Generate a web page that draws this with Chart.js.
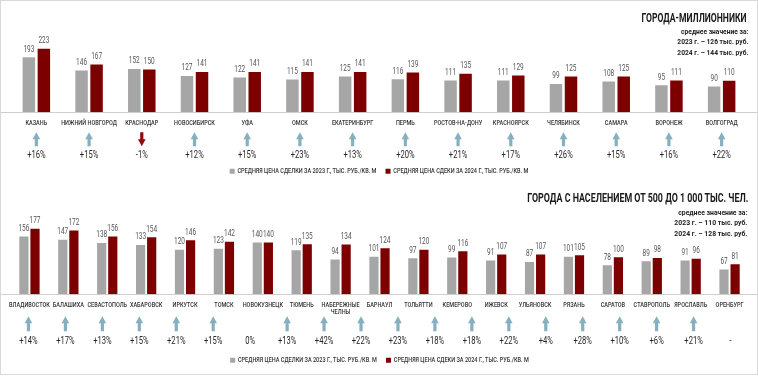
<!DOCTYPE html>
<html><head><meta charset="utf-8">
<script src="https://cdn.jsdelivr.net/npm/chart.js@4.4.1/dist/chart.umd.min.js"></script>
<style>
html,body{margin:0;padding:0;background:#fff;}
#wrap{position:relative;width:758px;height:376px;overflow:hidden;}
#frame{position:absolute;left:0;top:0;width:756px;height:373px;border:1px solid #d9d9d9;pointer-events:none;}
.panel{position:absolute;left:0;width:758px;overflow:hidden;}
#p1{top:0;height:185px;}
#p2{top:185px;height:191px;}
.ttl{position:absolute;font-family:Roboto,'Noto Sans',sans-serif;font-weight:700;font-size:12.5px;line-height:13px;color:#1a1a1a;white-space:nowrap;transform-origin:right top;}
.sub{position:absolute;text-align:right;font-family:Roboto,'Noto Sans',sans-serif;font-weight:700;font-size:8px;line-height:10.3px;color:#222;white-space:nowrap;transform-origin:right top;}
</style></head>
<body>
<div id="wrap">
  <div class="panel" id="p1"><canvas id="c1" width="997" height="185"></canvas></div>
  <div class="panel" id="p2"><canvas id="c2" width="997" height="191"></canvas></div>
  <div class="ttl" data-w="105" style="right:11px;top:10.5px;">ГОРОДА-МИЛЛИОННИКИ</div>
  <div class="sub" data-w="71" style="right:10px;top:27px;">среднее значение за:<br>2023 г. – 126 тыс. руб.<br>2024 г. – 144 тыс. руб.</div>
  <div class="ttl" data-w="221" style="right:10px;top:190.5px;">ГОРОДА С НАСЕЛЕНИЕМ ОТ 500 ДО 1 000 ТЫС. ЧЕЛ.</div>
  <div class="sub" data-w="73" style="right:11px;top:208px;">среднее значение за:<br>2023 г. – 110 тыс. руб.<br>2024 г. – 128 тыс. руб.</div>
  <div id="frame"></div>
</div>
<script>
// ---------- DATA ----------
const LEGEND_2023 = 'СРЕДНЯЯ ЦЕНА СДЕЛКИ ЗА 2023 Г., ТЫС. РУБ./КВ. М';
const LEGEND_2024 = 'СРЕДНЯЯ ЦЕНА СДЕКИ ЗА 2024 Г., ТЫС. РУБ./КВ. М';

const millionCities = ['КАЗАНЬ','НИЖНИЙ НОВГОРОД','КРАСНОДАР','НОВОСИБИРСК','УФА','ОМСК','ЕКАТЕРИНБУРГ','ПЕРМЬ','РОСТОВ-НА-ДОНУ','КРАСНОЯРСК','ЧЕЛЯБИНСК','САМАРА','ВОРОНЕЖ','ВОЛГОГРАД'];
const million2023 = [193,146,152,127,122,115,125,116,111,111,99,108,95,90];
const million2024 = [223,167,150,141,141,141,141,139,135,129,125,125,111,110];
const millionChange = ['+16%','+15%','-1%','+12%','+15%','+23%','+13%','+20%','+21%','+17%','+26%','+15%','+16%','+22%'];

const midCities = ['ВЛАДИВОСТОК','БАЛАШИХА','СЕВАСТОПОЛЬ','ХАБАРОВСК','ИРКУТСК','ТОМСК','НОВОКУЗНЕЦК','ТЮМЕНЬ',['НАБЕРЕЖНЫЕ','ЧЕЛНЫ'],'БАРНАУЛ','ТОЛЬЯТТИ','КЕМЕРОВО','ИЖЕВСК','УЛЬЯНОВСК','РЯЗАНЬ','САРАТОВ','СТАВРОПОЛЬ','ЯРОСЛАВЛЬ','ОРЕНБУРГ'];
const mid2023 = [156,147,138,133,120,123,140,119,94,101,97,99,91,87,101,78,89,91,67];
const mid2024 = [177,172,156,154,146,142,140,135,134,124,120,116,107,107,105,100,98,96,81];
const midChange = ['+14%','+17%','+13%','+15%','+21%','+15%','0%','+13%','+42%','+22%','+23%','+18%','+18%','+22%','+4%','+28%','+10%','+6%','+21%','-'];

// ---------- STYLE ----------
const FONT = "Roboto, 'Noto Sans', sans-serif";
const GRAY = '#a6a6a6', RED = '#7d0000', ARROW_UP = '#86afc0', ARROW_DN = '#8b0b0b';
const LOGICAL_W = 997;            // chart laid out wider, then drawn horizontally condensed
const SX = 758 / LOGICAL_W;       // horizontal condensation (narrow typeface look)

function drawArrow(ctx, x, yTop, yBot, dir) {
  const hw = 3.8 / SX, sw = 1.6 / SX, hh = 7;
  ctx.beginPath();
  if (dir > 0) {
    ctx.moveTo(x, yTop); ctx.lineTo(x + hw, yTop + hh); ctx.lineTo(x + sw, yTop + hh);
    ctx.lineTo(x + sw, yBot); ctx.lineTo(x - sw, yBot); ctx.lineTo(x - sw, yTop + hh);
    ctx.lineTo(x - hw, yTop + hh);
  } else {
    ctx.moveTo(x, yBot); ctx.lineTo(x + hw, yBot - hh); ctx.lineTo(x + sw, yBot - hh);
    ctx.lineTo(x + sw, yTop); ctx.lineTo(x - sw, yTop); ctx.lineTo(x - sw, yBot - hh);
    ctx.lineTo(x - hw, yBot - hh);
  }
  ctx.closePath();
  ctx.fillStyle = dir > 0 ? ARROW_UP : ARROW_DN;
  ctx.fill();
}

function makePlugin(changes, arrowTop, arrowBottom, textY) {
  return {
    id: 'annot',
    beforeDraw(chart) {
      chart.ctx.save();
      chart.ctx.scale(SX, 1);
    },
    beforeDatasetsDraw(chart) {
      const ctx = chart.ctx;
      const y = Math.round(chart.scales.y.getPixelForValue(0)) + 0.5;
      ctx.save();
      ctx.strokeStyle = '#c8c8c8'; ctx.lineWidth = 1;
      ctx.beginPath(); ctx.moveTo(1 / SX, y); ctx.lineTo(chart.width - 1 / SX, y); ctx.stroke();
      ctx.restore();
    },
    afterDatasetsDraw(chart) {
      const ctx = chart.ctx;
      ctx.save();
      ctx.font = '8.5px ' + FONT;
      ctx.fillStyle = '#555555'; ctx.textAlign = 'center'; ctx.textBaseline = 'bottom';
      chart.data.datasets.forEach((ds, di) => {
        chart.getDatasetMeta(di).data.forEach((el, i) => {
          ctx.fillText(String(ds.data[i]), el.x, el.y - 3.5);
        });
      });
      ctx.restore();
    },
    afterDraw(chart) {
      const ctx = chart.ctx;
      const x2 = chart.scales.x2;
      const base = chart.scales.y.getPixelForValue(0);
      ctx.save();
      changes.forEach((t, i) => {
        const x = x2.getPixelForValue(i);
        const dir = /^\+/.test(t) ? 1 : (/^-\d/.test(t) ? -1 : 0);
        if (dir) drawArrow(ctx, x, base + arrowTop, base + arrowBottom, dir);
        ctx.font = '10px ' + FONT;
        ctx.fillStyle = '#262626'; ctx.textAlign = 'center'; ctx.textBaseline = 'middle';
        ctx.fillText(t, x, base + textY);
      });
      ctx.restore();
      ctx.restore();
    }
  };
}

function makeChart(id, labels, v23, v24, changes, cfg) {
  return new Chart(document.getElementById(id), {
    type: 'bar',
    data: {
      labels: labels,
      datasets: [
        { label: LEGEND_2023, data: v23, backgroundColor: GRAY },
        { label: LEGEND_2024, data: v24, backgroundColor: RED }
      ]
    },
    options: {
      responsive: false, animation: false,
      layout: { padding: { left: 10 / SX, right: cfg.right / SX, top: cfg.top, bottom: cfg.bottom } },
      datasets: { bar: { categoryPercentage: 0.57, barPercentage: 0.83 } },
      scales: {
        x: {
          grid: { display: false, drawTicks: false }, border: { display: false },
          ticks: { font: { family: FONT, size: 7.3, weight: '500', lineHeight: 1.0 }, color: '#333333', padding: cfg.tickPad, maxRotation: 0, minRotation: 0, autoSkip: false },
          afterFit(s) { s.height = cfg.axisH; }
        },
        x2: { type: 'category', labels: changes, display: false, offset: true, position: 'bottom' },
        y: { display: false, min: 0, max: cfg.max }
      },
      plugins: {
        legend: {
          position: 'bottom',
          labels: { boxWidth: 5 / SX, boxHeight: 5, padding: 12, color: '#333333', font: { family: FONT, size: 7.3, weight: '500' } }
        },
        tooltip: { enabled: false }
      }
    },
    plugins: [makePlugin(changes, cfg.arrowTop, cfg.arrowBottom, cfg.textY)]
  });
}

makeChart('c1', millionCities, million2023, million2024, millionChange,
  { top: 21, bottom: 0, right: 10, max: 320, tickPad: 7, axisH: 43.5, arrowTop: 20, arrowBottom: 34, textY: 43 });
makeChart('c2', midCities, mid2023, mid2024, midChange,
  { top: 20, bottom: 2, right: 9, max: 241, tickPad: 7, axisH: 50.5, arrowTop: 22, arrowBottom: 37, textY: 47 });

// condense HTML headings to the reference widths
document.querySelectorAll('.ttl, .sub').forEach(el => {
  const w = el.getBoundingClientRect().width;
  const target = parseFloat(el.dataset.w);
  el.style.transform = 'scaleX(' + (target / w).toFixed(4) + ')';
});
</script>
</body></html>
